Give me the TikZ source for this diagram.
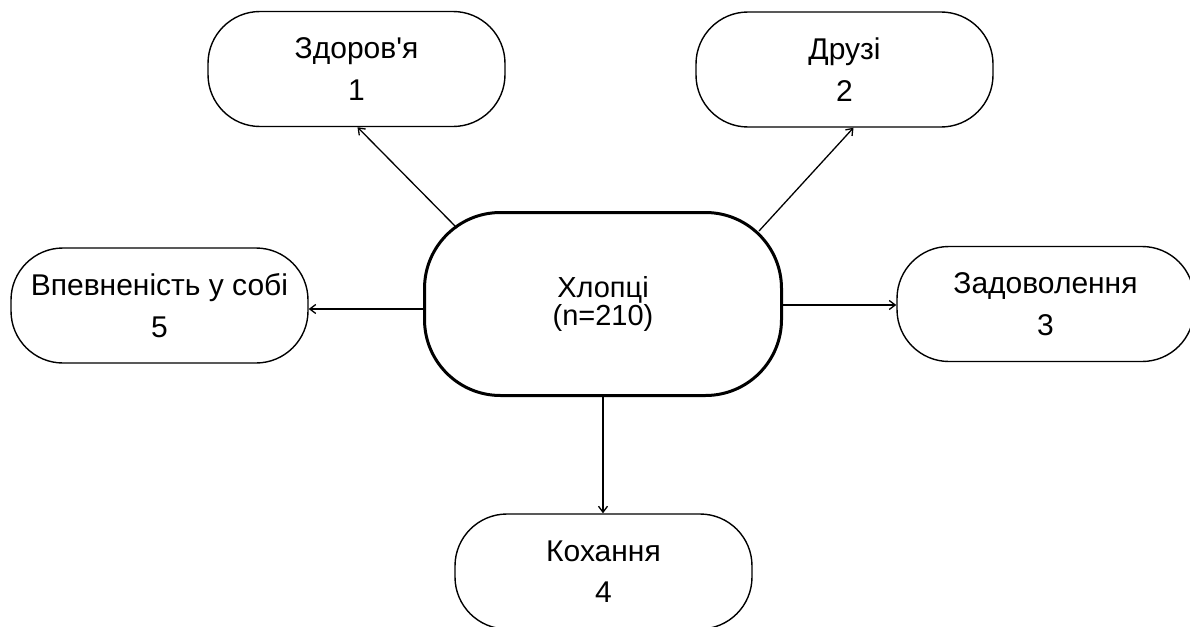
\documentclass[tikz,border=0pt]{standalone}
\usepackage{fontspec}
\setmainfont{Liberation Sans}[Ligatures=TeXOff]
\usetikzlibrary{arrows.meta}
\tikzset{
  outerbox/.style={draw, line width=1.4pt, rounded corners=52pt, minimum width=297pt, minimum height=115pt,
    inner sep=0pt, align=center, font=\fontsize{30}{41.5}\selectfont},
  centerbox/.style={draw, line width=3pt, rounded corners=76pt, minimum width=357pt, minimum height=183pt,
    inner sep=0pt, align=center, font=\fontsize{29}{27.5}\selectfont},
  link/.style={line width=1.3pt, -{Straight Barb[length=6pt,width=9pt,line width=1.3pt]}}
}
\begin{document}
\begin{tikzpicture}[x=1pt,y=-1pt]
\useasboundingbox (0,0) rectangle (1190,626);
\node[centerbox] (c) at (603,304) {Хлопці\\(n=210)};
\node[outerbox] (zd) at (356.5,69) {Здоров'я\\1};
\node[outerbox] (dr) at (844.5,69.5) {Друзі\\2};
\node[outerbox] (za) at (1045.5,304) {Задоволення\\3};
\node[outerbox] (vp) at (159.5,305.5) {Впевненість у собі\\5};
\node[outerbox] (ko) at (603.5,571.5) {Кохання\\4};
\draw[link] ([xshift=34pt,yshift=-17pt]c.north west) -- ([xshift=1pt]zd.south);
\draw[link] ([xshift=-24pt,yshift=-20pt]c.north east) -- ([xshift=9pt]dr.south);
\draw[link] ([yshift=-1pt]c.east) -- ([yshift=-1pt]c.east -| za.west);
\draw[link] ([yshift=-5pt]c.west) -- ([yshift=-5pt]c.west -| vp.east);
\draw[link] (c.south) -- (c.south |- ko.north);
\end{tikzpicture}
\end{document}
